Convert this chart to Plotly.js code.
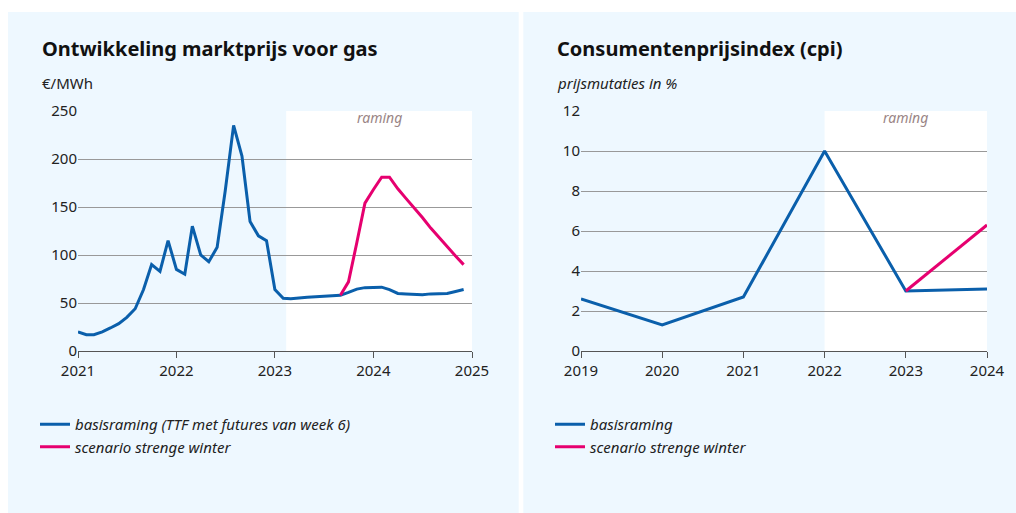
<!DOCTYPE html>
<html><head><meta charset="utf-8">
<script src="https://cdn.plot.ly/plotly-3.0.1.min.js"></script>
<style>html,body{margin:0;padding:0;background:#fff}#chart{width:1016px;height:513px}</style>
</head><body><div id="chart"></div>
<script>
// ---- Data: gas market price (EUR/MWh), monthly ----
const gasBaseDates = [
  "2021-01-01","2021-02-01","2021-03-01","2021-04-01","2021-05-01","2021-06-01",
  "2021-07-01","2021-08-01","2021-09-01","2021-10-01","2021-11-01","2021-12-01",
  "2022-01-01","2022-02-01","2022-03-01","2022-04-01","2022-05-01","2022-06-01",
  "2022-07-01","2022-08-01","2022-09-01","2022-10-01","2022-11-01","2022-12-01",
  "2023-01-01","2023-02-01","2023-03-01","2023-04-01","2023-05-01","2023-06-01",
  "2023-07-01","2023-08-01","2023-09-01","2023-10-01","2023-11-01","2023-12-01",
  "2024-01-01","2024-02-01","2024-03-01","2024-04-01","2024-05-01","2024-06-01",
  "2024-07-01","2024-08-01","2024-09-01","2024-10-01","2024-11-01","2024-12-01"
];
const gasBaseValues = [
  20, 17, 17, 20, 24, 28.5, 35, 44, 64, 90, 83, 115,
  85, 80, 130, 100, 93, 108, 167, 235, 203, 135, 120, 115,
  64, 55, 54.5, 55.5, 56, 56.5, 57, 57.5, 58, 61, 64.5, 66,
  66.5, 66.5, 64, 60, 59.5, 59, 58.5, 59.5, 60, 60, 62, 64
];
const gasWinterDates = [
  "2023-09-01","2023-10-01","2023-11-01","2023-12-01",
  "2024-01-01","2024-02-01","2024-03-01","2024-04-01","2024-05-01","2024-06-01",
  "2024-07-01","2024-08-01","2024-09-01","2024-10-01","2024-11-01","2024-12-01"
];
const gasWinterValues = [58, 72, 113, 154, 168, 181, 181, 169, 159, 149, 139, 128, 118, 108, 99, 90];

// ---- Data: CPI (% change), yearly ----
const cpiYears = [2019, 2020, 2021, 2022, 2023, 2024];
const cpiBase = [2.6, 1.3, 2.7, 10.0, 3.0, 3.1];
const cpiWinterYears = [2023, 2024];
const cpiWinter = [3.0, 6.3];

// ---- Labels ----
const titleGas = "Ontwikkeling marktprijs voor gas";
const unitGas = "€/MWh";
const titleCpi = "Consumentenprijsindex (cpi)";
const unitCpi = "prijsmutaties in %";
const labelForecast = "raming";
const nameGasBase = "basisraming (TTF met futures van week 6)";
const nameCpiBase = "basisraming";
const nameWinter = "scenario strenge winter";

const W = 1016, H = 513;
const px = v => v / W;
const py = v => (H - v) / H;

const BLUE = "#0a5fab", PINK = "#e6006f";
const PANEL = "#eef8ff";
const FONT = "Noto Sans, sans-serif";

const traces = [
  {x: gasBaseDates, y: gasBaseValues, type: "scatter", mode: "lines", name: nameGasBase,
   line: {color: BLUE, width: 3}, xaxis: "x", yaxis: "y", legend: "legend"},
  {x: gasWinterDates, y: gasWinterValues, type: "scatter", mode: "lines", name: nameWinter,
   line: {color: PINK, width: 3}, xaxis: "x", yaxis: "y", legend: "legend"},
  {x: cpiYears, y: cpiBase, type: "scatter", mode: "lines", name: nameCpiBase,
   line: {color: BLUE, width: 3}, xaxis: "x2", yaxis: "y2", legend: "legend2"},
  {x: cpiWinterYears, y: cpiWinter, type: "scatter", mode: "lines", name: nameWinter,
   line: {color: PINK, width: 3}, xaxis: "x2", yaxis: "y2", legend: "legend2"}
];

const tickFont = {family: FONT, size: 15, color: "#222"};
const yCommon = {showline: false, zeroline: false, showgrid: true, gridcolor: "#999999", gridwidth: 1,
  ticks: "", tickfont: tickFont, fixedrange: true, domain: [py(351), py(111)]};
const xCommon = {showline: true, linecolor: "#555", linewidth: 1, ticks: "outside", ticklen: 6,
  tickcolor: "#555", showgrid: false, zeroline: false, tickfont: tickFont, fixedrange: true};

const legendCommon = {font: {family: FONT, size: 15, color: "#222", style: "italic"},
  bgcolor: "rgba(0,0,0,0)", borderwidth: 0, orientation: "v", xanchor: "left", yanchor: "top",
  itemclick: false, itemdoubleclick: false, tracegroupgap: 0};

const layout = {
  width: W, height: H, margin: {l: 0, r: 0, t: 0, b: 0},
  paper_bgcolor: "#ffffff", plot_bgcolor: "rgba(0,0,0,0)",
  font: {family: FONT, color: "#222"},
  xaxis: Object.assign({}, xCommon, {type: "date", range: ["2021-01-01", "2025-01-01"],
    dtick: "M12", tick0: "2021-01-01", tickformat: "%Y", domain: [px(78), px(472)], anchor: "y"}),
  yaxis: Object.assign({}, yCommon, {range: [0, 250], dtick: 50, anchor: "x"}),
  xaxis2: Object.assign({}, xCommon, {type: "linear", range: [2019, 2024], dtick: 1, tickformat: "d",
    domain: [px(581), px(987)], anchor: "y2"}),
  yaxis2: Object.assign({}, yCommon, {range: [0, 12], dtick: 2, anchor: "x2"}),
  showlegend: true,
  legend: Object.assign({}, legendCommon, {x: px(35), y: py(408)}),
  legend2: Object.assign({}, legendCommon, {x: px(550), y: py(408)}),
  shapes: [
    {type: "rect", xref: "paper", yref: "paper", x0: px(8), x1: px(518.7), y0: 0, y1: py(12),
     fillcolor: PANEL, line: {width: 0}, layer: "below"},
    {type: "rect", xref: "paper", yref: "paper", x0: px(523.3), x1: 1, y0: 0, y1: py(12),
     fillcolor: PANEL, line: {width: 0}, layer: "below"},
    {type: "rect", xref: "x", yref: "y", x0: "2023-02-12", x1: "2025-01-01", y0: 0, y1: 250,
     fillcolor: "#ffffff", line: {width: 0}, layer: "below"},
    {type: "rect", xref: "x2", yref: "y2", x0: 2022, x1: 2024, y0: 0, y1: 12,
     fillcolor: "#ffffff", line: {width: 0}, layer: "below"}
  ],
  annotations: [
    {text: titleGas, xref: "paper", yref: "paper", x: px(40), y: py(48), xanchor: "left", yanchor: "middle",
     showarrow: false, font: {family: FONT, size: 20, weight: 700, color: "#111"}},
    {text: unitGas, xref: "paper", yref: "paper", x: px(40), y: py(83), xanchor: "left", yanchor: "middle",
     showarrow: false, font: {family: FONT, size: 15, color: "#222"}},
    {text: titleCpi, xref: "paper", yref: "paper", x: px(555), y: py(48), xanchor: "left", yanchor: "middle",
     showarrow: false, font: {family: FONT, size: 20, weight: 700, color: "#111"}},
    {text: unitCpi, xref: "paper", yref: "paper", x: px(555), y: py(83), xanchor: "left", yanchor: "middle",
     showarrow: false, font: {family: FONT, size: 15, color: "#222", style: "italic"}},
    {text: labelForecast, xref: "paper", yref: "paper", x: px(379), y: py(117), xanchor: "center", yanchor: "middle",
     showarrow: false, font: {family: FONT, size: 14, color: "#9a8585", style: "italic"}},
    {text: labelForecast, xref: "paper", yref: "paper", x: px(905), y: py(117), xanchor: "center", yanchor: "middle",
     showarrow: false, font: {family: FONT, size: 14, color: "#9a8585", style: "italic"}}
  ]
};

Plotly.newPlot("chart", traces, layout, {staticPlot: true, displayModeBar: false});
</script>
</body></html>
